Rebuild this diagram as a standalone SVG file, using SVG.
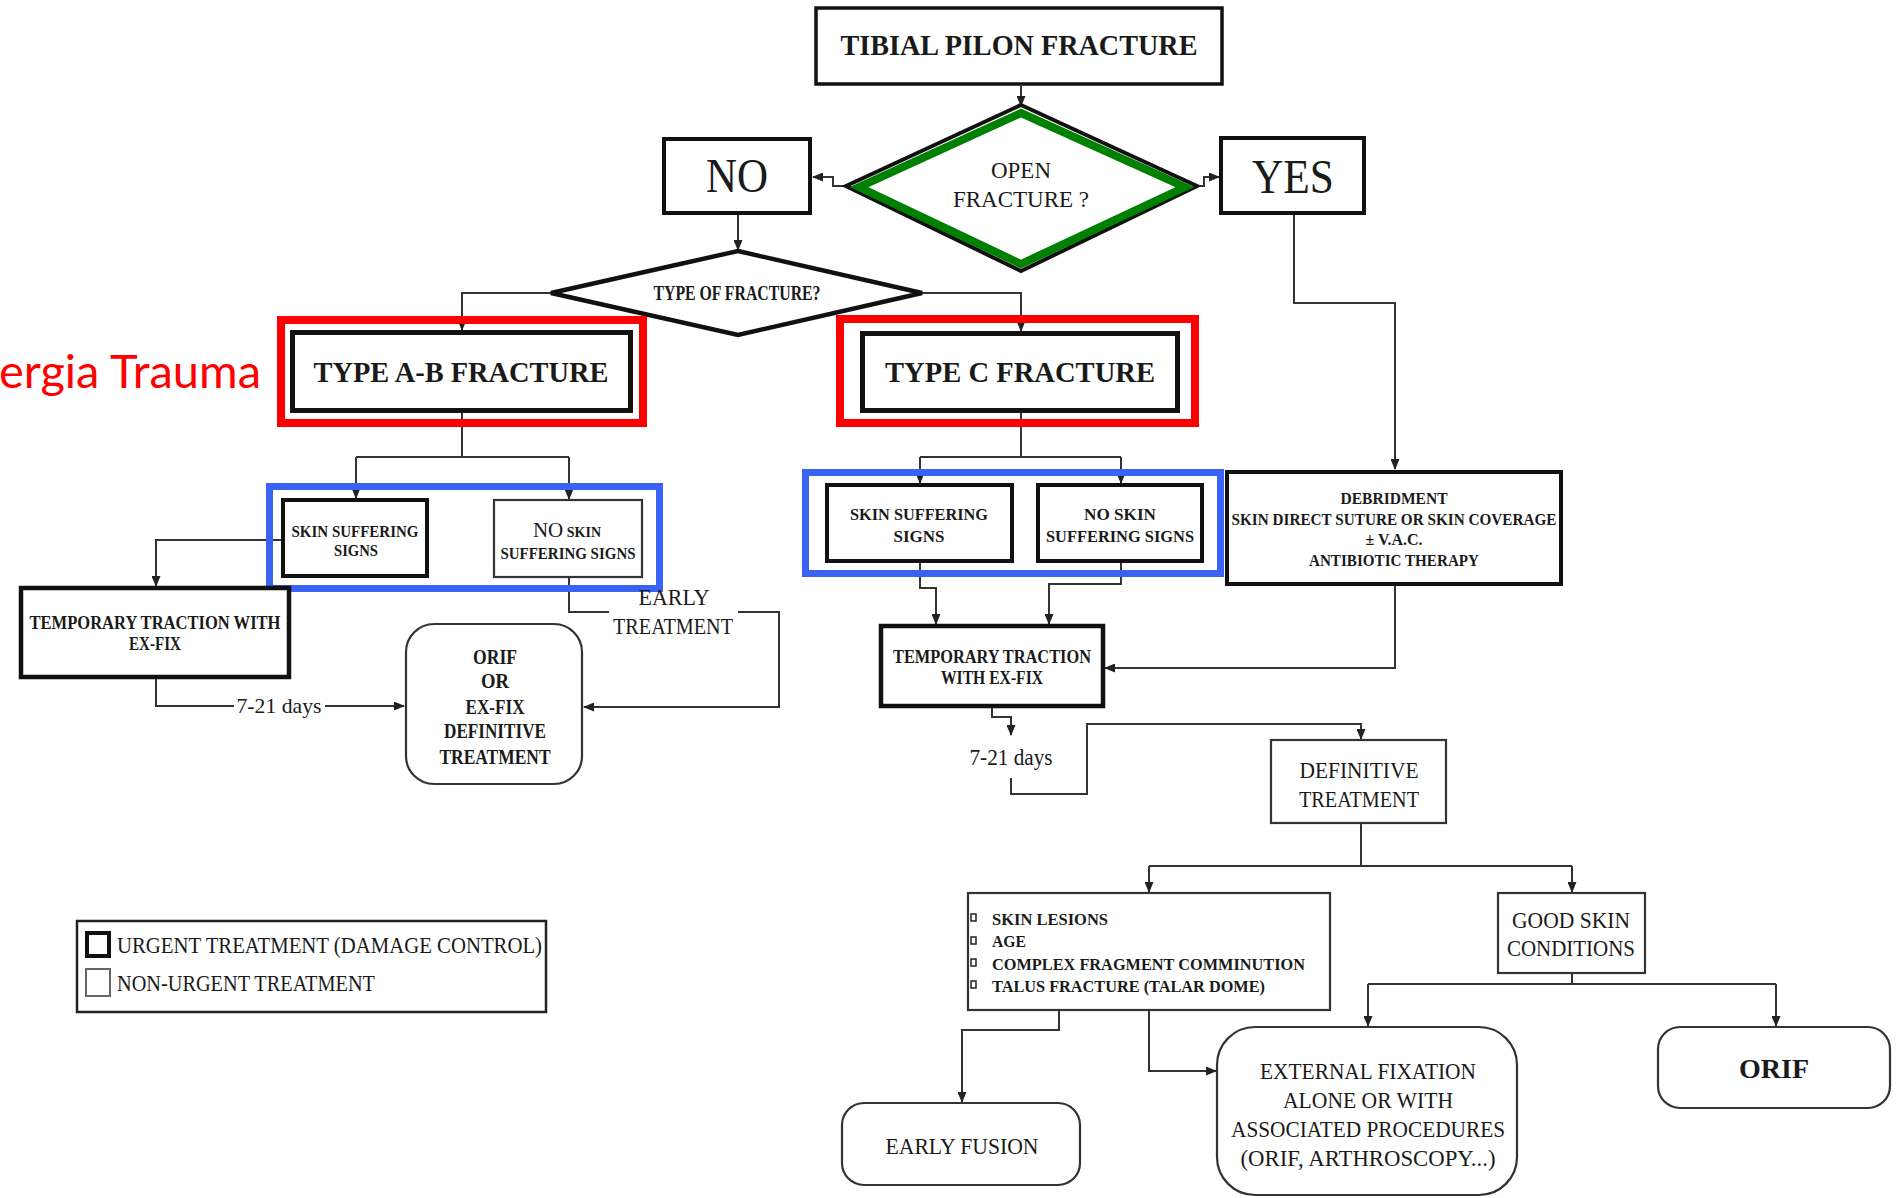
<svg xmlns="http://www.w3.org/2000/svg" width="1898" height="1198" viewBox="0 0 1898 1198">
<defs>
<style>
.thick{fill:#fff;stroke:#111;stroke-width:4.5}
.thin{fill:#fff;stroke:#333;stroke-width:2.2}
.conn{fill:none;stroke:#333;stroke-width:2}
.arr{marker-end:url(#ah)}
.red{fill:none;stroke:#ff0000;stroke-width:8}
.blue{fill:none;stroke:#3a63f5;stroke-width:7}
.t{font-family:"Liberation Serif","Times New Roman",serif;fill:#1a1a1a;text-anchor:middle}
.s{text-anchor:start}
.b{font-weight:bold}
</style>
<marker id="ah" markerUnits="userSpaceOnUse" markerWidth="11" markerHeight="9" refX="10" refY="4.5" orient="auto">
<path d="M0,0 L11,4.5 L0,9 Z" fill="#222"/>
</marker>
</defs>
<rect width="1898" height="1198" fill="#fff"/>

<g id="connectors">
<path class="conn arr" d="M1021,86 V106"/>
<path class="conn arr" d="M849,186 H833 V177 H813"/>
<path class="conn arr" d="M1194,186 H1204 V177 H1219"/>
<path class="conn arr" d="M738,215 V250"/>
<path class="conn arr" d="M551,293 H462 V330"/>
<path class="conn arr" d="M922,293 H1021 V331"/>
<path class="conn arr" d="M1294,215 V303 H1395 V469"/>
<path class="conn" d="M462,413 V457 M356,457 H569"/>
<path class="conn arr" d="M356,457 V498"/>
<path class="conn arr" d="M569,457 V499"/>
<path class="conn arr" d="M281,540 H156 V586"/>
<path class="conn" d="M156,679 V706 H234"/>
<path class="conn arr" d="M325,706 H404"/>
<path class="conn" d="M569,578 V612 H609"/>
<path class="conn arr" d="M738,612 H779 V707 H584"/>
<path class="conn" d="M1021,413 V457 M920,457 H1121"/>
<path class="conn arr" d="M920,457 V483"/>
<path class="conn arr" d="M1121,457 V483"/>
<path class="conn arr" d="M920,563 V588 H936 V624"/>
<path class="conn arr" d="M1121,563 V584 H1049 V624"/>
<path class="conn arr" d="M1395,586 V668 H1105"/>
<path class="conn arr" d="M992,708 V717 H1011 V735"/>
<path class="conn arr" d="M1011,778 V794 H1087 V724 H1361 V739"/>
<path class="conn" d="M1361,824 V866 M1149,866 H1572"/>
<path class="conn arr" d="M1149,866 V892"/>
<path class="conn arr" d="M1572,866 V892"/>
<path class="conn" d="M1572,974 V984 M1368,984 H1776"/>
<path class="conn arr" d="M1368,984 V1026"/>
<path class="conn arr" d="M1776,984 V1026"/>
<path class="conn arr" d="M1059,1011 V1030 H962 V1102"/>
<path class="conn arr" d="M1149,1011 V1071 H1216"/>
</g>

<g id="tibial-pilon-fracture">
<rect class="thick" x="816" y="8" width="406" height="76" style="stroke-width:3.5"/>
<text class="t b" x="1019" y="55" font-size="29" textLength="357" lengthAdjust="spacingAndGlyphs">TIBIAL PILON FRACTURE</text>
</g>

<g id="open-fracture">
<polygon points="1021,105 1197,186 1021,271 846,186" fill="#fff" stroke="#111" stroke-width="4"/>
<polygon points="1021,113 1185,187 1021,264 859,187" fill="#fff" stroke="#008000" stroke-width="8" stroke-linejoin="miter"/>
<text class="t" x="1021" y="178" font-size="23">OPEN</text>
<text class="t" x="1021" y="207" font-size="23">FRACTURE ?</text>
</g>

<g id="no">
<rect class="thick" x="664" y="139" width="146" height="74" style="stroke-width:4"/>
<text class="t" x="737" y="192" font-size="48" textLength="62" lengthAdjust="spacingAndGlyphs">NO</text>
</g>

<g id="yes">
<rect class="thick" x="1221" y="138" width="143" height="75" style="stroke-width:4"/>
<text class="t" x="1293" y="193" font-size="48" textLength="82" lengthAdjust="spacingAndGlyphs">YES</text>
</g>

<g id="type-of-fracture">
<polygon points="738,251 922,293 738,335 551,293" fill="#fff" stroke="#111" stroke-width="4.5"/>
<text class="t b" x="737" y="300" font-size="20" textLength="167" lengthAdjust="spacingAndGlyphs">TYPE OF FRACTURE?</text>
</g>

<g id="label-trauma">
<text x="261" y="388" font-family="Lato,'Open Sans',sans-serif" font-size="47" fill="#ff0000" text-anchor="end">ergia Trauma</text>
</g>

<g id="type-ab-fracture">
<rect class="red" x="281" y="320" width="362" height="103"/>
<rect class="thick" x="292.5" y="332.5" width="338" height="78" style="stroke-width:5"/>
<text class="t b" x="461" y="382" font-size="29" textLength="295" lengthAdjust="spacingAndGlyphs">TYPE A-B FRACTURE</text>
</g>

<g id="type-c-fracture">
<rect class="red" x="840" y="319" width="355" height="104"/>
<rect class="thick" x="862.5" y="333.5" width="315" height="77" style="stroke-width:5"/>
<text class="t b" x="1020" y="382" font-size="29" textLength="270" lengthAdjust="spacingAndGlyphs">TYPE C FRACTURE</text>
</g>

<g id="ab-skin-signs">
<rect class="blue" x="269.5" y="486.5" width="390" height="102"/>
<rect class="thick" x="283" y="500" width="144" height="76" style="stroke-width:4"/>
<text class="t b" x="355" y="537" font-size="17" textLength="127" lengthAdjust="spacingAndGlyphs">SKIN SUFFERING</text>
<text class="t b" x="356" y="556" font-size="17" textLength="44" lengthAdjust="spacingAndGlyphs">SIGNS</text>
</g>

<g id="ab-no-skin-signs">
<rect class="thin" x="494" y="500" width="148" height="77"/>
<text class="t" x="567" y="537"><tspan font-size="21">NO</tspan><tspan font-size="14" font-weight="bold"> SKIN</tspan></text>
<text class="t b" x="568" y="559" font-size="17" textLength="135" lengthAdjust="spacingAndGlyphs">SUFFERING SIGNS</text>
</g>

<g id="c-skin-signs">
<rect class="blue" x="805.5" y="472.5" width="415" height="101"/>
<rect class="thick" x="827" y="485" width="185" height="76" style="stroke-width:4"/>
<text class="t b" x="919" y="520" font-size="17" textLength="138" lengthAdjust="spacingAndGlyphs">SKIN SUFFERING</text>
<text class="t b" x="919" y="542" font-size="17" textLength="51" lengthAdjust="spacingAndGlyphs">SIGNS</text>
</g>

<g id="c-no-skin-signs">
<rect class="thick" x="1038" y="485" width="164" height="76" style="stroke-width:4"/>
<text class="t b" x="1120" y="520" font-size="17" textLength="72" lengthAdjust="spacingAndGlyphs">NO SKIN</text>
<text class="t b" x="1120" y="542" font-size="17" textLength="148" lengthAdjust="spacingAndGlyphs">SUFFERING SIGNS</text>
</g>

<g id="debridment">
<rect class="thick" x="1227" y="472" width="334" height="112" style="stroke-width:4"/>
<text class="t b" x="1394" y="504" font-size="16" textLength="107" lengthAdjust="spacingAndGlyphs">DEBRIDMENT</text>
<text class="t b" x="1394" y="525" font-size="16" textLength="325" lengthAdjust="spacingAndGlyphs">SKIN DIRECT SUTURE OR SKIN COVERAGE</text>
<text class="t b" x="1394" y="545" font-size="16" textLength="57" lengthAdjust="spacingAndGlyphs">± V.A.C.</text>
<text class="t b" x="1394" y="566" font-size="16" textLength="170" lengthAdjust="spacingAndGlyphs">ANTIBIOTIC THERAPY</text>
</g>

<g id="ab-temporary-traction">
<rect class="thick" x="21" y="588" width="268" height="89"/>
<text class="t b" x="155" y="629" font-size="19" textLength="251" lengthAdjust="spacingAndGlyphs">TEMPORARY TRACTION WITH</text>
<text class="t b" x="155" y="650" font-size="19" textLength="52" lengthAdjust="spacingAndGlyphs">EX-FIX</text>
</g>

<g id="label-7-21-days-ab">
<text class="t" x="279" y="713" font-size="22" textLength="85" lengthAdjust="spacingAndGlyphs">7-21 days</text>
</g>

<g id="label-early-treatment">
<text class="t" x="674" y="605" font-size="23" textLength="71" lengthAdjust="spacingAndGlyphs">EARLY</text>
<text class="t" x="673" y="634" font-size="23" textLength="120" lengthAdjust="spacingAndGlyphs">TREATMENT</text>
</g>

<g id="orif-exfix-definitive">
<rect class="thin" x="406" y="624" width="176" height="160" rx="28"/>
<text class="t b" x="495" y="664" font-size="20" textLength="44" lengthAdjust="spacingAndGlyphs">ORIF</text>
<text class="t b" x="495" y="688" font-size="20" textLength="28" lengthAdjust="spacingAndGlyphs">OR</text>
<text class="t b" x="495" y="714" font-size="20" textLength="59" lengthAdjust="spacingAndGlyphs">EX-FIX</text>
<text class="t b" x="495" y="738" font-size="20" textLength="102" lengthAdjust="spacingAndGlyphs">DEFINITIVE</text>
<text class="t b" x="495" y="764" font-size="20" textLength="111" lengthAdjust="spacingAndGlyphs">TREATMENT</text>
</g>

<g id="c-temporary-traction">
<rect class="thick" x="881" y="626" width="222" height="80"/>
<text class="t b" x="992" y="663" font-size="19" textLength="198" lengthAdjust="spacingAndGlyphs">TEMPORARY TRACTION</text>
<text class="t b" x="992" y="684" font-size="19" textLength="102" lengthAdjust="spacingAndGlyphs">WITH EX-FIX</text>
</g>

<g id="label-7-21-days-c">
<text class="t" x="1011" y="765" font-size="23" textLength="83" lengthAdjust="spacingAndGlyphs">7-21 days</text>
</g>

<g id="definitive-treatment">
<rect class="thin" x="1271" y="740" width="175" height="83"/>
<text class="t" x="1359" y="778" font-size="24" textLength="119" lengthAdjust="spacingAndGlyphs">DEFINITIVE</text>
<text class="t" x="1359" y="807" font-size="24" textLength="120" lengthAdjust="spacingAndGlyphs">TREATMENT</text>
</g>

<g id="criteria">
<rect class="thin" x="968" y="893" width="362" height="117"/>
<g fill="none" stroke="#222" stroke-width="1.5">
<rect x="971" y="914" width="5" height="7"/>
<rect x="971" y="937" width="5" height="7"/>
<rect x="971" y="959" width="5" height="7"/>
<rect x="971" y="981" width="5" height="7"/>
</g>
<text class="t s b" x="992" y="925" font-size="17" textLength="116" lengthAdjust="spacingAndGlyphs">SKIN LESIONS</text>
<text class="t s b" x="992" y="947" font-size="17" textLength="34" lengthAdjust="spacingAndGlyphs">AGE</text>
<text class="t s b" x="992" y="970" font-size="17" textLength="313" lengthAdjust="spacingAndGlyphs">COMPLEX FRAGMENT COMMINUTION</text>
<text class="t s b" x="992" y="992" font-size="17" textLength="273" lengthAdjust="spacingAndGlyphs">TALUS FRACTURE (TALAR DOME)</text>
</g>

<g id="good-skin-conditions">
<rect class="thin" x="1498" y="893" width="147" height="80"/>
<text class="t" x="1571" y="928" font-size="24" textLength="118" lengthAdjust="spacingAndGlyphs">GOOD SKIN</text>
<text class="t" x="1571" y="956" font-size="24" textLength="128" lengthAdjust="spacingAndGlyphs">CONDITIONS</text>
</g>

<g id="early-fusion">
<rect class="thin" x="842" y="1103" width="238" height="82" rx="22"/>
<text class="t" x="962" y="1154" font-size="24" textLength="153" lengthAdjust="spacingAndGlyphs">EARLY FUSION</text>
</g>

<g id="external-fixation">
<rect class="thin" x="1217" y="1027" width="300" height="168" rx="38"/>
<text class="t" x="1368" y="1079" font-size="24" textLength="216" lengthAdjust="spacingAndGlyphs">EXTERNAL FIXATION</text>
<text class="t" x="1368" y="1108" font-size="24" textLength="170" lengthAdjust="spacingAndGlyphs">ALONE OR WITH</text>
<text class="t" x="1368" y="1137" font-size="24" textLength="274" lengthAdjust="spacingAndGlyphs">ASSOCIATED PROCEDURES</text>
<text class="t" x="1368" y="1166" font-size="24" textLength="255" lengthAdjust="spacingAndGlyphs">(ORIF, ARTHROSCOPY...)</text>
</g>

<g id="orif">
<rect class="thin" x="1658" y="1027" width="232" height="81" rx="22"/>
<text class="t b" x="1774" y="1078" font-size="28" textLength="70" lengthAdjust="spacingAndGlyphs">ORIF</text>
</g>

<g id="legend">
<rect x="77" y="921" width="469" height="91" fill="#fff" stroke="#222" stroke-width="2.5"/>
<rect x="87" y="933" width="22" height="23" fill="none" stroke="#111" stroke-width="4"/>
<rect x="86" y="969" width="24" height="27" fill="none" stroke="#666" stroke-width="2"/>
<text class="t s" x="117" y="953" font-size="24" textLength="425" lengthAdjust="spacingAndGlyphs">URGENT TREATMENT (DAMAGE CONTROL)</text>
<text class="t s" x="117" y="991" font-size="24" textLength="258" lengthAdjust="spacingAndGlyphs">NON-URGENT TREATMENT</text>
</g>
</svg>
